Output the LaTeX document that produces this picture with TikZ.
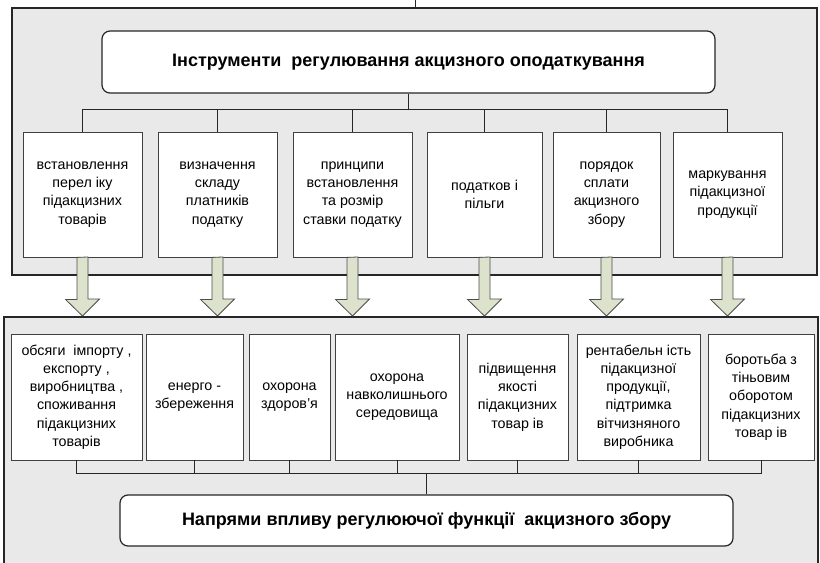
\documentclass[tikz,border=0pt]{standalone}
\usepackage{fontspec}
\setmainfont{Liberation Sans}
\usetikzlibrary{calc}
\definecolor{contfill}{HTML}{E9E9E9}
\definecolor{arrfill}{HTML}{DDE2CC}
\begin{document}
\begin{tikzpicture}[x=0.75pt,y=-0.75pt,
  sz/.style 2 args={minimum width=#1*0.75pt, minimum height=#2*0.75pt},
  container/.style={draw=black!85, line width=1.5pt, fill=contfill, rectangle, inner sep=0pt},
  titlebox/.style={draw=black!85, line width=0.9pt, fill=white, rounded corners=6pt, inner sep=0pt, font=\fontsize{13.5}{16}\selectfont\bfseries},
  item/.style={draw=black!75, line width=0.6pt, fill=white, inner sep=0pt, align=center, font=\fontsize{10.7}{13.7}\selectfont},
  link/.style={draw=black!85, line width=0.75pt},
  bigarrow/.style={draw=black!70, fill=arrfill, line width=0.6pt, line join=miter}]
\useasboundingbox (0,0) rectangle (820,563);
% containers
\node[container, sz={805}{267}] (top) at (414.5,141.5) {};
\node[container, sz={814}{258}] (bot) at (411,446) {};
\coordinate (tick) at (415,0);
\coordinate (tickend) at (415,8);
\draw[link] (tick) -- (tickend);
% top title
\node[titlebox, sz={613}{62}] (title) at (408.5,62) {Інструменти\ \ регулювання акцизного оподаткування};
% top items
\node[item, sz={119}{125}] (t1) at (82.5,194.5) {встановлення\\перел іку\\підакцизних\\товарів};
\node[item, sz={119}{125}] (t2) at (217.5,194.5) {визначення\\складу\\платників\\податку};
\node[item, sz={119}{125}] (t3) at (352.5,194.5) {принципи\\встановлення\\та розмір\\ставки податку};
\node[item, sz={115}{125}] (t4) at (484.5,194.5) {податков і\\пільги};
\node[item, sz={107}{125}] (t5) at (606.5,194.5) {порядок\\сплати\\акцизного\\збору};
\node[item, sz={109}{125}] (t6) at (727.5,194.5) {маркування\\підакцизної\\продукції};
\coordinate (busT) at (0,110);
\draw[link] (t1.north) |- (t6.north |- busT) -- (t6.north);
\foreach \n in {t2,t3,t4,t5} {\draw[link] (\n.north) -- (\n |- busT);}
\draw[link] (title.south) -- (title.south |- busT);
% bottom items
\node[item, sz={131}{126}] (b1) at (76.5,397) {обсяги\ \ імпорту ,\\експорту ,\\виробництва ,\\споживання\\підакцизних\\товарів};
\node[item, sz={97}{126}] (b2) at (194.5,397) {енерго -\\збереження};
\node[item, sz={81}{126}] (b3) at (289.5,397) {охорона\\здоров’я};
\node[item, sz={124}{126}] (b4) at (397,397) {охорона\\навколишнього\\середовища};
\node[item, sz={101}{126}] (b5) at (517.5,397) {підвищення\\якості\\підакцизних\\товар ів};
\node[item, sz={123}{126}] (b6) at (638.5,397) {рентабельн ість\\підакцизної\\продукції,\\підтримка\\вітчизняного\\виробника};
\node[item, sz={106}{126}] (b7) at (761,397) {боротьба з\\тіньовим\\оборотом\\підакцизних\\товар ів};
\node[titlebox, sz={613}{51}] (ftitle) at (426.5,520.5) {Напрями впливу регулюючої функції\ \ акцизного збору};
\coordinate (busB) at (0,473);
\draw[link] (b1.south) |- (b7.south |- busB) -- (b7.south);
\foreach \n in {b2,b3,b4,b5,b6} {\draw[link] (\n.south) -- (\n |- busB);}
\draw[link] (ftitle.north) -- (ftitle.north |- busB);
% arrows
\foreach \n in {t1,t2,t3,t4,t5,t6} {
  \draw[bigarrow] ($(\n.south)+(-5.5,0)$) -- ++(0,42) -- ++(-11.5,0)
     -- (\n.south |- bot.north) -- ++(17,-17) -- ++(-11.5,0) -- ++(0,-42) -- cycle;
}
\end{tikzpicture}
\end{document}
